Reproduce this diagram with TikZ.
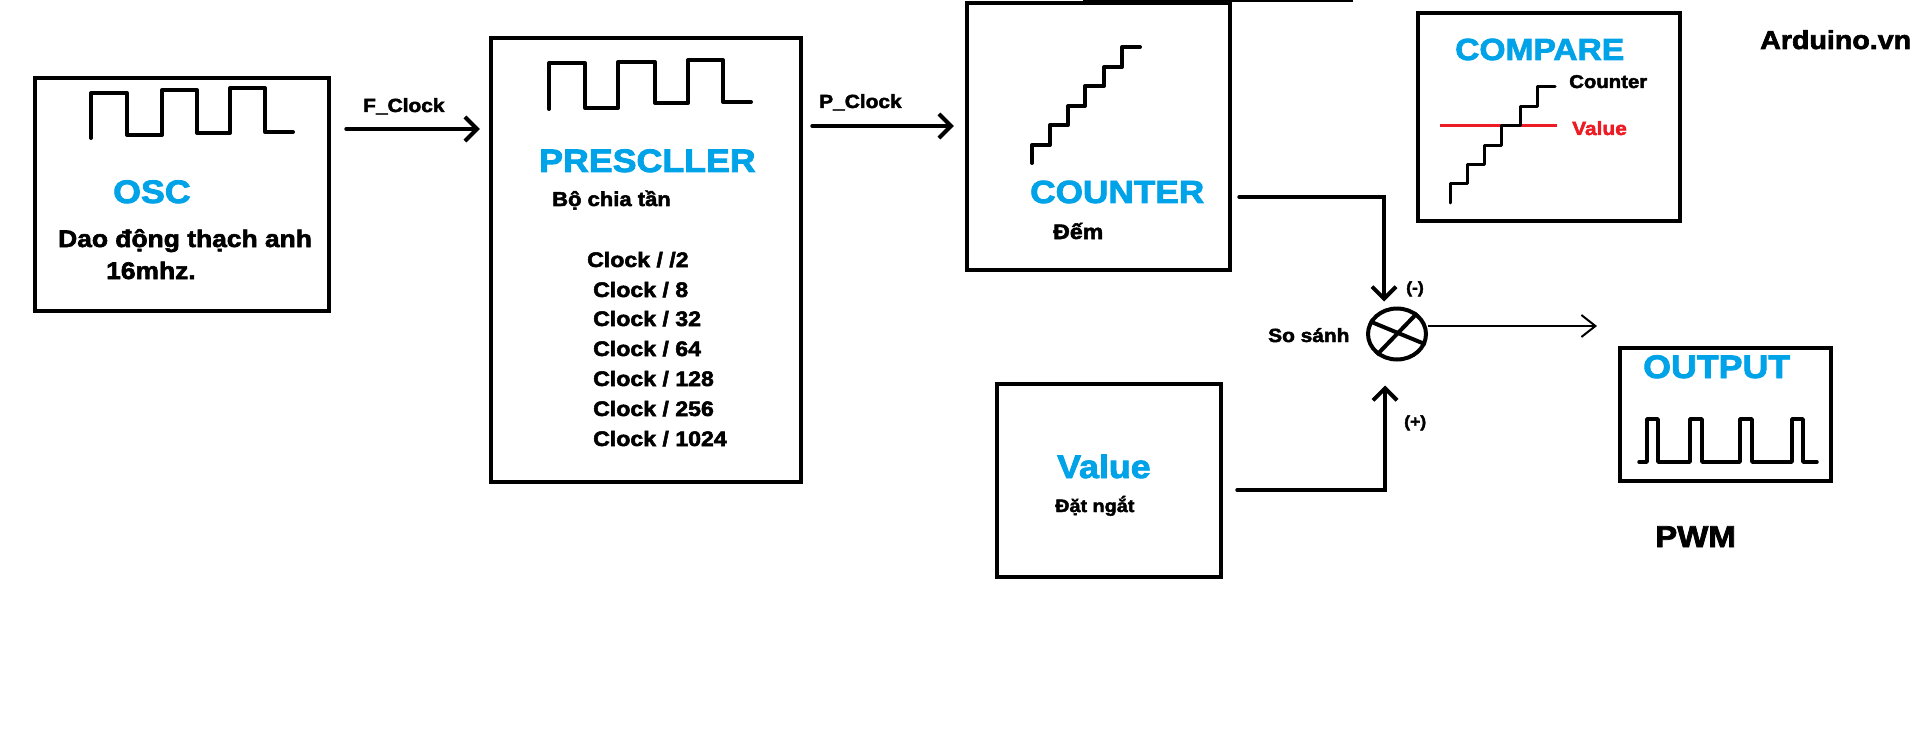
\documentclass[tikz,border=0pt]{standalone}
\usepackage{fontspec}
\newfontfamily\hv{Liberation Sans}[FakeStretch=1.10, BoldFeatures={FakeBold=2.5}]
\usetikzlibrary{arrows.meta,shapes.geometric}
\definecolor{pblue}{RGB}{0,162,232}
\definecolor{pred}{RGB}{237,28,36}
\begin{document}
\begin{tikzpicture}[x=1pt,y=-1pt,
  box/.style={draw,line width=4.5pt,rectangle,inner sep=0pt},
  wave/.style={line width=4pt,line cap=round,line join=round},
  conn/.style={line width=4pt,line cap=round,-{Straight Barb[length=12pt,width=24pt]}},
  thinconn/.style={line width=2pt,-{Straight Barb[length=14pt,width=22pt]}},
  lbl/.style={inner sep=0pt,anchor=base west},
  title/.style={lbl,text=pblue,font=\hv\bfseries\fontsize{32.5}{36}\selectfont},
  big/.style={lbl,font=\hv\bfseries\fontsize{24}{28}\selectfont},
  med/.style={lbl,font=\hv\bfseries\fontsize{21}{24}\selectfont},
  small/.style={lbl,font=\hv\bfseries\fontsize{19}{22}\selectfont},
  tiny/.style={lbl,font=\hv\bfseries\fontsize{16}{19}\selectfont}]
\useasboundingbox[fill=white] (0,0) rectangle (1932,730);

% stray thin line at top
\draw[line width=1.5pt] (1083,1) -- (1353,1);

% boxes
\node[box,minimum width=294pt,minimum height=233pt] (osc) at (182,194.5) {};
\node[box,minimum width=310pt,minimum height=444pt] (presc) at (646,260) {};
\node[box,minimum width=263pt,minimum height=267pt] (cnt) at (1098.5,136.5) {};
\node[box,minimum width=262pt,minimum height=208pt] (cmpbox) at (1549,117) {};
\node[box,minimum width=224pt,minimum height=193pt] (val) at (1109,480.5) {};
\node[box,minimum width=211pt,minimum height=133pt] (out) at (1725.5,414.5) {};
\node[draw,ellipse,line width=4pt,minimum width=58pt,minimum height=51pt,inner sep=0pt] (cmp) at (1397,334) {};
\draw[line width=4pt] (cmp.155) -- (cmp.-20);
\draw[line width=4pt] (cmp.46) -- (cmp.226);

% waveforms
\draw[wave] (91,138)--(91,93)--(127,93)--(127,135)--(162,135)--(162,90)--(197,90)--(197,133)--(230,133)--(230,88)--(265,88)--(265,132)--(293,132);
\draw[wave] (549,109)--(549,63)--(585,63)--(585,108)--(618,108)--(618,62)--(655,62)--(655,103)--(688,103)--(688,60)--(723,60)--(723,102)--(751,102);
\draw[wave] (1032,163)--(1032,145)--(1050,145)--(1050,125)--(1068,125)--(1068,106)--(1085,106)--(1085,86)--(1104,86)--(1104,67)--(1122,67)--(1122,47)--(1140,47);
\draw[line width=3pt,pred] (1440,126)--(1557,126);
\draw[wave,line width=3pt] (1450,203)--(1450,184)--(1467,184)--(1467,165)--(1484,165)--(1484,146)--(1501,146)--(1501,126)--(1520,126)--(1520,107)--(1537,107)--(1537,87)--(1555,87);
\draw[wave,line width=3.5pt] (1639,462)--(1647,462)--(1647,419)--(1658,419)--(1658,462)--(1690,462)--(1690,419)--(1702,419)--(1702,462)--(1740,462)--(1740,419)--(1752,419)--(1752,462)--(1792,462)--(1792,419)--(1803,419)--(1803,462)--(1817,462);

% texts
\node[title] (toscs) at (113,203) {OSC};
\node[big] (tosc1) at (58,247) {Dao động thạch anh};
\node[big] (tosc2) at (106,279) {16mhz.};
\node[small] (tfclk) at (363,112) {F\_Clock};
\node[title] (tpre) at (539,172) {PRESCLLER};
\node[small,font=\hv\bfseries\fontsize{20}{24}\selectfont] (tpre1) at (552,206) {Bộ chia tần};
\node[med] (c1) at (587,267) {Clock / /2};
\node[med] (c2) at (593,297) {Clock / 8};
\node[med] (c3) at (593,326) {Clock / 32};
\node[med] (c4) at (593,356) {Clock / 64};
\node[med] (c5) at (593,386) {Clock / 128};
\node[med] (c6) at (593,416) {Clock / 256};
\node[med] (c7) at (593,446) {Clock / 1024};
\node[small] (tpclk) at (819,108) {P\_Clock};
\node[title,font=\hv\bfseries\fontsize{32}{36}\selectfont] (tcnt) at (1030,203) {COUNTER};
\node[med] (tcnt1) at (1053,239) {Đếm};
\node[title,font=\hv\bfseries\fontsize{30.5}{36}\selectfont] (tcmp) at (1455,60) {COMPARE};
\node[small,font=\hv\bfseries\fontsize{18.5}{22}\selectfont] (tcmpc) at (1569,88) {Counter};
\node[small,text=pred] (tcmpv) at (1572,135) {Value};
\node[lbl,font=\hv\bfseries\fontsize{26}{30}\selectfont] (tard) at (1760,49) {Arduino.vn};
\node[tiny] (tminus) at (1406,293) {(-)};
\node[small] (tss) at (1268,342) {So sánh};
\node[tiny] (tplus) at (1404,427) {(+)};
\node[title] (tval) at (1057,478) {Value};
\node[small,font=\hv\bfseries\fontsize{18}{22}\selectfont] (tval1) at (1055,512) {Đặt ngắt};
\node[title] (tout) at (1643,378) {OUTPUT};
\node[lbl,font=\hv\bfseries\fontsize{30}{34}\selectfont] (tpwm) at (1655,547) {PWM};

% connectors
\coordinate (fck) at (0,129);
\coordinate (pck) at (0,126);
\coordinate (j1) at (1384,197);
\coordinate (j2) at (1385,490);
\coordinate (outend) at (1597,326);
\draw[conn] ([xshift=15pt]osc.east |- fck) -- ([xshift=-9pt]presc.west |- fck);
\draw[conn] ([xshift=9pt]presc.east |- pck) -- ([xshift=-11pt]cnt.west |- pck);
\draw[conn] ([xshift=7pt]cnt.east |- j1) -- (j1) -- ([yshift=5pt]j1 |- cmp.north);
\draw[conn] ([xshift=14pt]val.east |- j2) -- (j2) -- ([yshift=-24pt]j2 |- cmp.south);
\draw[thinconn] ([yshift=8pt]cmp.east) -- (outend);
\end{tikzpicture}
\end{document}
